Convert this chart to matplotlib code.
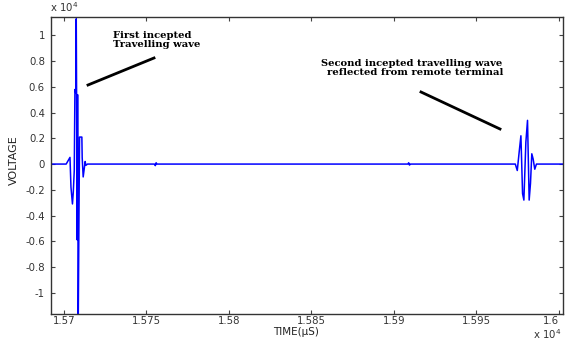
import matplotlib
matplotlib.use("Agg")
import matplotlib.pyplot as plt
from matplotlib.lines import Line2D

# ---- data (time in microseconds, voltage in units of 1e4) ----
time_us = [15692.0, 15701.5, 15703.8, 15704.4, 15705.3, 15705.8, 15706.4, 15706.8,
           15707.4, 15707.6, 15708.2, 15708.4, 15708.8, 15709.2, 15709.6, 15711.0,
           15711.2, 15711.8, 15713.0, 15713.4, 15714.4,
           15755.0, 15755.5, 15756.0, 15756.5,
           15908.5, 15909.0, 15909.5, 15910.0,
           15973.6, 15974.8, 15976.0, 15977.0, 15978.0, 15978.8, 15980.0, 15981.0,
           15982.0, 15982.8, 15983.6, 15984.4, 15985.4, 15986.4, 16003.0]
voltage_e4 = [0.0, 0.0, 0.052, -0.18, -0.31, -0.22, -0.05, 0.58,
              0.55, 1.13, -0.59, 0.54, -1.25, -0.49, 0.21, 0.21,
              0.05, -0.10, 0.02, -0.01, 0.0,
              0.0, -0.012, 0.01, 0.0,
              0.0, 0.01, -0.008, 0.0,
              0.0, -0.05, 0.10, 0.22, -0.23, -0.28, 0.17, 0.34,
              -0.28, -0.15, 0.08, 0.04, -0.04, 0.0, 0.0]

x_ticks = [15700, 15750, 15800, 15850, 15900, 15950, 16000]
x_tick_labels = ["1.57", "1.575", "1.58", "1.585", "1.59", "1.595", "1.6"]
y_ticks = [-1.0, -0.8, -0.6, -0.4, -0.2, 0.0, 0.2, 0.4, 0.6, 0.8, 1.0]
y_tick_labels = ["-1", "-0.8", "-0.6", "-0.4", "-0.2", "0", "0.2", "0.4", "0.6", "0.8", "1"]

W, H = 565, 340
fig = plt.figure(figsize=(W / 100, H / 100), dpi=100)

def fx(px):
    return px / W

def fy(py):
    return 1 - py / H

left, right, top, bottom = 50.5, 563, 16.7, 313.5
ax = fig.add_axes([fx(left), fy(bottom), fx(right) - fx(left), fy(top) - fy(bottom)])

ax.plot(time_us, voltage_e4, color="#0000ff", lw=1.1)
ax.set_xlim(15692, 16002.5)
ax.set_ylim(-1.162, 1.146)

tick_font = dict(family="DejaVu Sans", size=7.3, color="#333333")
ax.set_xticks(x_ticks)
ax.set_xticklabels(x_tick_labels, **tick_font)
ax.get_xticklabels()[-1].set_horizontalalignment("right")
ax.set_yticks(y_ticks)
ax.set_yticklabels(y_tick_labels, **tick_font)
ax.tick_params(direction="in", length=3, width=0.8, color="#444444",
               top=True, right=True)
ax.tick_params(axis="x", pad=2)
ax.tick_params(axis="y", pad=4)
for s in ax.spines.values():
    s.set_color("#333333")
    s.set_linewidth(1.0)

# offset (x 10^4) labels
fig.text(fx(50), fy(7), r"x $10^4$", fontsize=7.3, family="DejaVu Sans",
         color="#333333", ha="left", va="center")
fig.text(fx(561), fy(334), r"x $10^4$", fontsize=7.3, family="DejaVu Sans",
         color="#333333", ha="right", va="center")

# axis labels
fig.text(fx(296), fy(332), "TIME(\u00b5S)", fontsize=7.5, family="DejaVu Sans",
         color="#222222", ha="center", va="center")
fig.text(fx(14), fy(160), "VOLTAGE", fontsize=8,
         family=["Liberation Sans Narrow", "DejaVu Sans"], color="#222222",
         rotation=90, ha="center", va="center")

# annotations
ann_font = dict(family="DejaVu Serif", weight="bold", size=7.2, color="black")
fig.text(fx(113), fy(31), "First incepted\nTravelling wave", ha="left", va="top",
         linespacing=0.95, **ann_font)
fig.text(fx(412), fy(59), "Second incepted travelling wave\n  reflected from remote terminal",
         ha="center", va="top", linespacing=0.95, **ann_font)

fig.add_artist(Line2D([fx(88), fx(154)], [fy(85), fy(58)], color="black", lw=2.0,
                      transform=fig.transFigure))
fig.add_artist(Line2D([fx(421), fx(500)], [fy(92), fy(129)], color="black", lw=2.0,
                      transform=fig.transFigure))

fig.savefig("out.png", dpi=100)
